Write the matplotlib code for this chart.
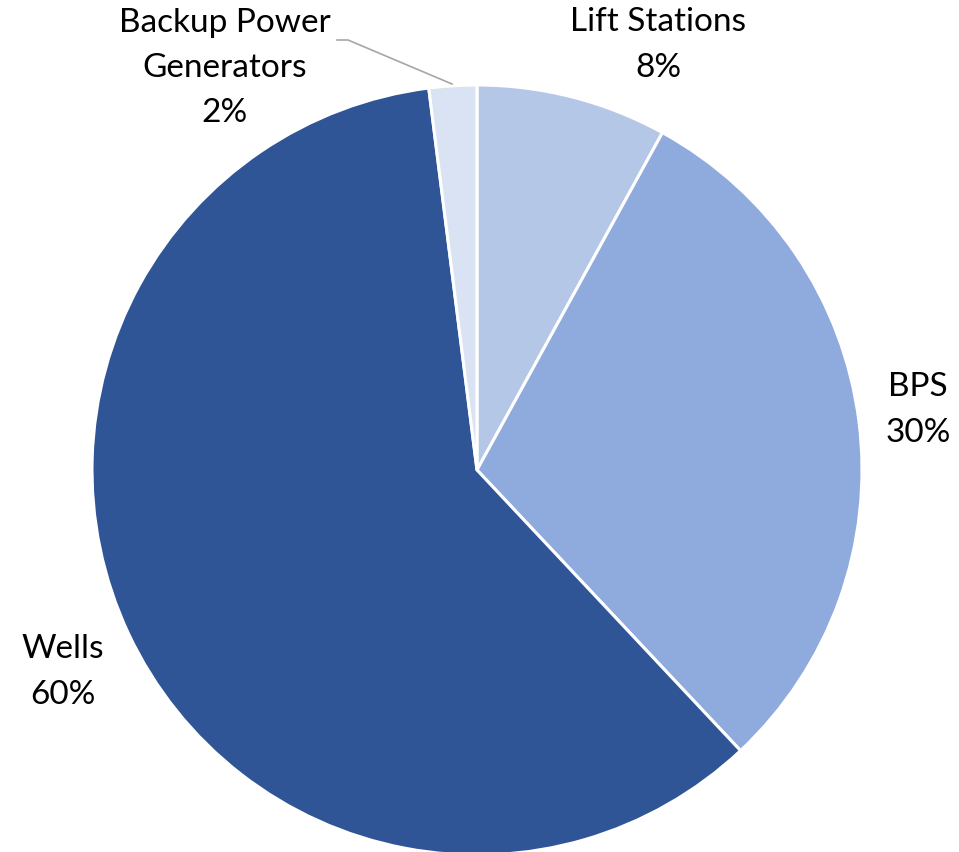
import matplotlib
matplotlib.use("Agg")
import matplotlib.pyplot as plt

# Share of energy use by facility type
categories = ["Lift Stations", "BPS", "Wells", "Backup Power\nGenerators"]
shares = [8, 30, 60, 2]
colors = ["#B4C7E7", "#8FAADC", "#2F5597", "#DAE3F3"]

plt.rcParams["font.family"] = ["Lato", "DejaVu Sans"]

W, H, DPI = 959, 852, 100
R_PX = 385.0
CX, CY = 477.0, 470.0


def px(x, y):
    """Pixel position (from top-left) to data coordinates of the unit pie."""
    return (x - CX) / R_PX, (CY - y) / R_PX


fig = plt.figure(figsize=(W / DPI, H / DPI), dpi=DPI)
ax = fig.add_axes([0, 0, 1, 1])
ax.pie(shares, colors=colors, startangle=90, counterclock=False,
       wedgeprops=dict(edgecolor="white", linewidth=2.2))
ax.set_xlim(-CX / R_PX, (W - CX) / R_PX)
ax.set_ylim(-(H - CY) / R_PX, CY / R_PX)
ax.set_aspect("auto")
ax.axis("off")

label_pos = [px(658, 45), px(918, 410), px(63, 672), px(225, 68)]
for name, val, (lx, ly) in zip(categories, shares, label_pos):
    ax.text(lx, ly, f"{name}\n{val}%", ha="center", va="center",
            fontsize=24, linespacing=1.63, color="black")

# leader line for the small slice
p0, p1, p2 = px(337, 40), px(348, 40), px(452, 84)
ax.plot([p0[0], p1[0], p2[0]], [p0[1], p1[1], p2[1]], color="#A6A6A6", lw=1.2)

fig.savefig("out.png", dpi=DPI)
